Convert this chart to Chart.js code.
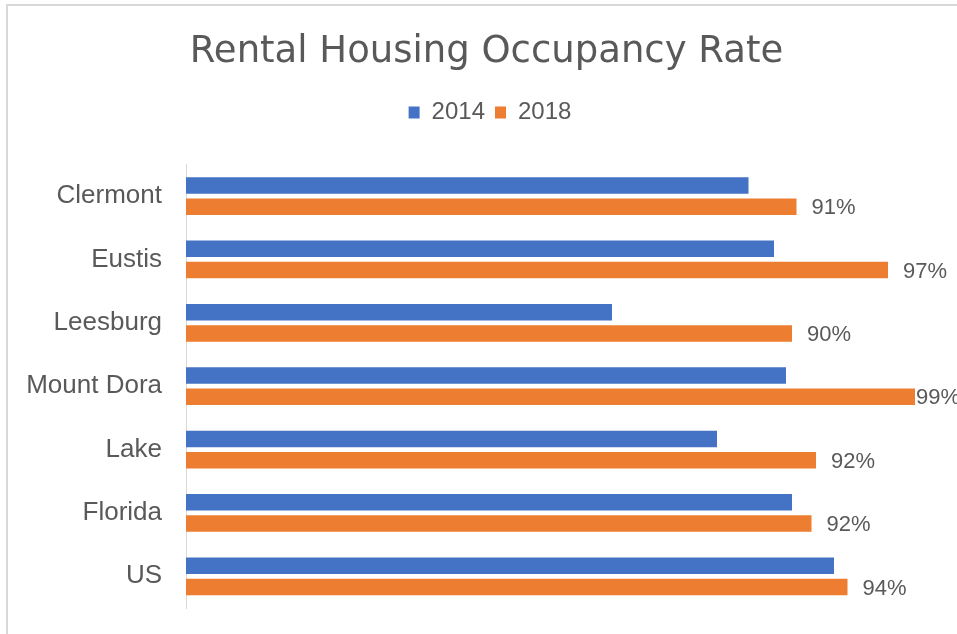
<!DOCTYPE html>
<html lang="en">
  <head>
    <meta charset="UTF-8" />
    <title>Rental Housing Occupancy Rate</title>
    <script src="https://cdn.jsdelivr.net/npm/chart.js"></script>
    <style>
      * {
        margin: 0;
        padding: 0;
        box-sizing: border-box;
      }
      body {
        background: #fff;
        width: 957px;
        height: 634px;
        overflow: hidden;
        position: relative;
      }
      .frame {
        position: absolute;
        left: 6px;
        top: 4px;
        width: 1000px;
        height: 700px;
        border-top: 2px solid #d9d9d9;
        border-left: 2px solid #d9d9d9;
      }
      canvas {
        position: absolute;
        left: 0;
        top: 0;
      }
    </style>
  </head>
  <body>
    <div class="frame"></div>
    <canvas id="occChart" width="957" height="634"></canvas>

    <script>
      const places = ["Clermont", "Eustis", "Leesburg", "Mount Dora", "Lake", "Florida", "US"];
      const rate2014 = [0.875, 0.892, 0.784, 0.900, 0.854, 0.904, 0.932];
      const rate2018 = [0.907, 0.968, 0.904, 0.986, 0.920, 0.917, 0.941];

      const textGrey = "#595959";

      // percent labels after the 2018 bars
      const barLabels = {
        id: "barLabels",
        afterDatasetsDraw(chart) {
          const ctx = chart.ctx;
          const meta = chart.getDatasetMeta(1);
          ctx.save();
          ctx.font = "22px 'Liberation Sans', Arial, sans-serif";
          ctx.fillStyle = textGrey;
          ctx.textBaseline = "middle";
          ctx.textAlign = "left";
          meta.data.forEach((bar, i) => {
            const txt = Math.round(rate2018[i] * 100) + "%";
            const w = ctx.measureText(txt).width;
            const x = Math.min(bar.x + 15, chart.width + 3 - w);
            ctx.fillText(txt, x, bar.y + 1.5);
          });
          ctx.restore();
        },
      };

      // extra room under the legend, and title/legend centred a bit right
      const headerTweak = {
        id: "headerTweak",
        beforeInit(chart) {
          const fit = chart.legend.fit;
          chart.legend.fit = function () {
            fit.bind(chart.legend)();
            this.height += 30;
          };
        },
        afterLayout(chart) {
          chart.titleBlock.left += 37;
          chart.legend.left += 44;
        },
      };

      const ctx = document.getElementById("occChart").getContext("2d");
      const occChart = new Chart(ctx, {
        type: "bar",
        data: {
          labels: places,
          datasets: [
            {
              label: "2014",
              data: rate2014,
              backgroundColor: "#4472c4",
              categoryPercentage: 0.672,
              barPercentage: 0.775,
            },
            {
              label: "2018",
              data: rate2018,
              backgroundColor: "#ed7d31",
              categoryPercentage: 0.672,
              barPercentage: 0.775,
            },
          ],
        },
        options: {
          indexAxis: "y",
          responsive: false,
          animation: false,
          layout: {
            padding: { left: 0, right: 21, top: 0, bottom: 26 },
          },
          scales: {
            x: {
              display: false,
              min: 0.5,
              max: 1.0,
            },
            y: {
              grid: { display: false, drawTicks: false },
              border: { display: true, color: "#d9d9d9", width: 1 },
              ticks: {
                color: textGrey,
                padding: 24,
                font: { family: "'Liberation Sans', Arial, sans-serif", size: 26 },
              },
              afterFit(scale) {
                scale.width = 186;
                scale.paddingTop = 0;
                scale.paddingBottom = 0;
              },
            },
          },
          plugins: {
            title: {
              display: true,
              text: "Rental Housing Occupancy Rate",
              color: textGrey,
              font: { family: "'DejaVu Sans', sans-serif", size: 37, weight: "normal" },
              padding: { top: 30, bottom: 16 },
            },
            legend: {
              display: true,
              labels: {
                color: textGrey,
                boxWidth: 11,
                boxHeight: 12,
                padding: 10,
                font: { family: "'Liberation Sans', Arial, sans-serif", size: 24 },
              },
            },
            tooltip: { enabled: false },
          },
        },
        plugins: [barLabels, headerTweak],
      });
    </script>
  </body>
</html>
